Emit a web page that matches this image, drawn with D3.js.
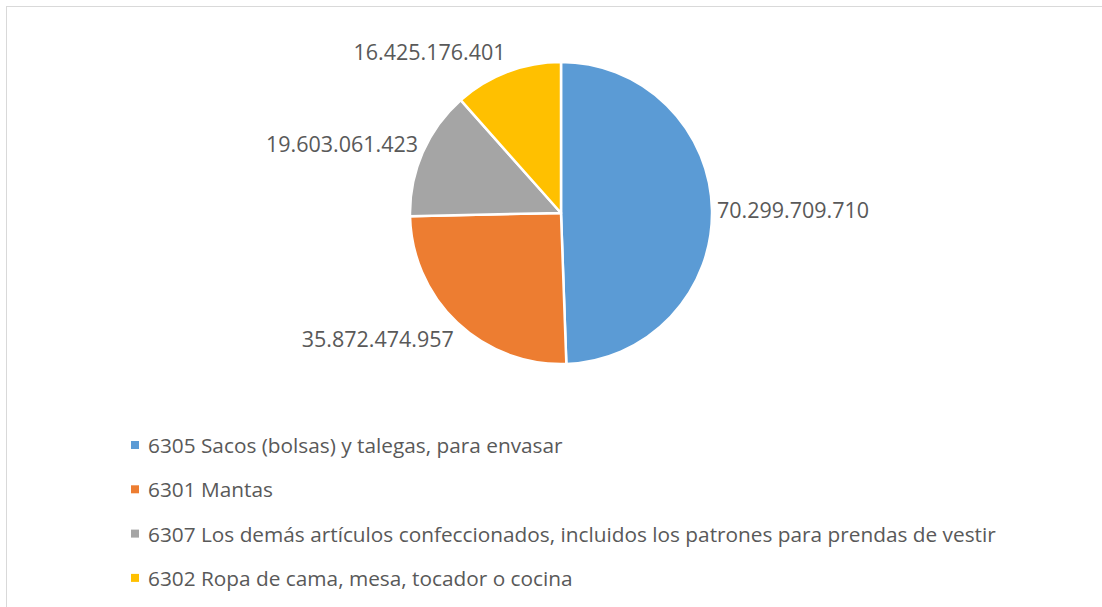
<!DOCTYPE html>
<html>
<head>
<meta charset="utf-8">
<script src="https://cdn.jsdelivr.net/npm/d3@7"></script>
<style>
  body { margin: 0; background: #fff; }
  svg text { font-family: "Open Sans", sans-serif; fill: #595959; }
</style>
</head>
<body>
<div id="chart"></div>
<script>
const categories = [
    "6305 Sacos (bolsas) y talegas, para envasar",
    "6301 Mantas",
    "6307 Los demás artículos confeccionados, incluidos los patrones para prendas de vestir",
    "6302 Ropa de cama, mesa, tocador o cocina"
];
const values = [70299709710, 35872474957, 19603061423, 16425176401];
const valueLabels = ["70.299.709.710", "35.872.474.957", "19.603.061.423", "16.425.176.401"];
const colors = ["#5B9BD5", "#ED7D31", "#A5A5A5", "#FFC000"];

const width = 1102, height = 607;
const cx = 561, cy = 213, radius = 151;

const svg = d3.select("#chart")
    .append("svg")
    .attr("width", width)
    .attr("height", height);

// chart frame, cut off at right and bottom like the reference
svg.append("rect")
    .attr("x", 6.5).attr("y", 6.5)
    .attr("width", 1200).attr("height", 700)
    .attr("fill", "none")
    .attr("stroke", "#D9D9D9");

const pie = d3.pie().sort(null).value(d => d);
const arcs = pie(values);
const arc = d3.arc().innerRadius(0).outerRadius(radius);

const g = svg.append("g").attr("transform", `translate(${cx},${cy})`);

g.selectAll("path")
    .data(arcs)
    .join("path")
    .attr("d", arc)
    .attr("fill", (d, i) => colors[i])
    .attr("stroke", "#fff")
    .attr("stroke-width", 2.5)
    .attr("stroke-linejoin", "round");

// data labels outside end
g.selectAll("text.lbl")
    .data(arcs)
    .join("text")
    .attr("class", "lbl")
    .attr("font-size", 21.5)
    .attr("dominant-baseline", "central")
    .each(function(d, i) {
        const a = (d.startAngle + d.endAngle) / 2;
        const r = radius + 5;
        const x = Math.sin(a) * r;
        const y = -Math.cos(a) * r - Math.cos(a) * 17;
        d3.select(this)
            .attr("x", x)
            .attr("y", y)
            .attr("text-anchor", Math.sin(a) >= 0 ? "start" : "end")
            .text(valueLabels[i]);
    });

// legend
const legend = svg.append("g").attr("transform", "translate(131,445)");
const rows = legend.selectAll("g")
    .data(categories)
    .join("g")
    .attr("transform", (d, i) => `translate(0,${i * 44.3})`);

rows.append("rect")
    .attr("x", 0).attr("y", -4)
    .attr("width", 8).attr("height", 8)
    .attr("fill", (d, i) => colors[i]);

rows.append("text")
    .attr("x", 17)
    .attr("y", 0)
    .attr("font-size", 20.8)
    .attr("dominant-baseline", "central")
    .text(d => d);
</script>
</body>
</html>
